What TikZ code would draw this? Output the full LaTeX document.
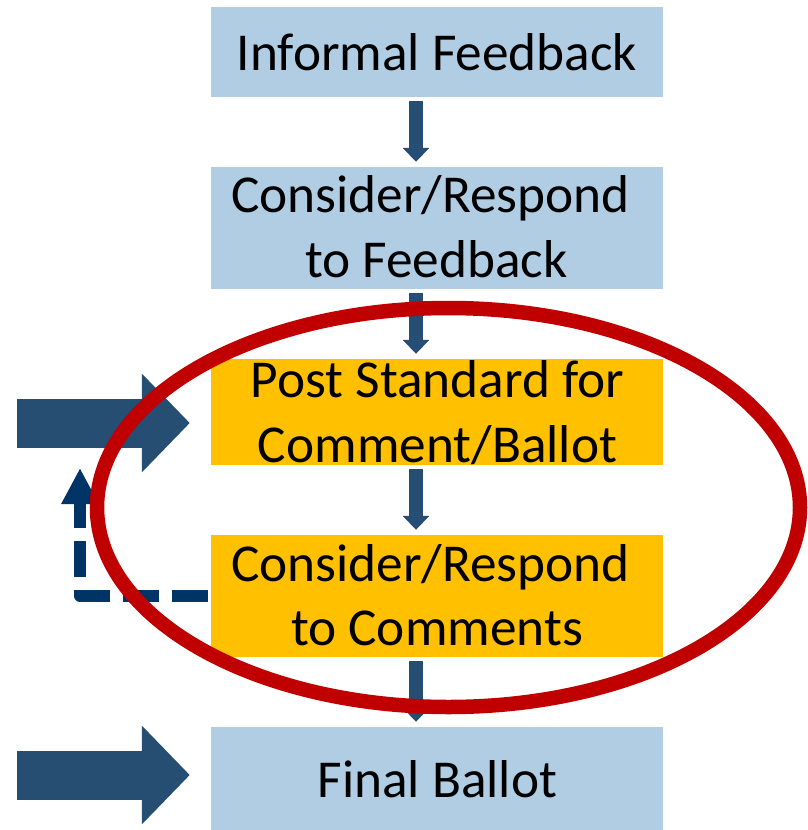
\documentclass[tikz,border=0pt]{standalone}
\usepackage{fontspec}
\setmainfont{Carlito}
\usetikzlibrary{arrows.meta}

\definecolor{boxblue}{HTML}{B0CDE3}
\definecolor{keyorange}{HTML}{FFC000}
\definecolor{flowblue}{HTML}{264E73}
\definecolor{loopnavy}{HTML}{003366}
\definecolor{focusred}{HTML}{C00000}

\tikzset{
  stage/.style={rectangle, inner sep=0pt, minimum width=452pt, draw=none},
  lightstage/.style={stage, fill=boxblue},
  keystage/.style={stage, fill=keyorange},
  stagetext/.style={anchor=base, inner sep=0pt, font=\fontsize{53.3}{65}\selectfont},
  flow/.style={draw=flowblue, line width=14pt, -{Triangle[width=26pt,length=14pt]},
    shorten <=4pt, shorten >=5pt},
  bigflow/.style={draw=flowblue, line width=49pt, -{Triangle[width=96pt,length=48pt]},
    shorten >=21pt},
  loopback/.style={draw=loopnavy, line width=12pt, dash pattern=on 36pt off 13pt,
    line join=round, shorten <=3pt, -{Triangle[width=35pt,length=36pt]}},
  focus/.style={draw=focusred, line width=14.5pt}
}

\begin{document}
\begin{tikzpicture}[x=1pt, y=-1pt]
  \useasboundingbox (0,0) rectangle (808,830);

  % process stages
  \node[lightstage, minimum height=90pt]  (b1) at (437,52)  {};
  \node[lightstage, minimum height=122pt] (b2) at (437,228) {};
  \node[keystage,   minimum height=106pt] (b3) at (437,412) {};
  \node[keystage,   minimum height=122pt] (b4) at (437,596) {};
  \node[lightstage, minimum height=106pt] (b5) at (437,780) {};

  % stage captions
  \node[stagetext] (t1)  at (437,70)    {Informal Feedback};
  \node[stagetext] (t2a) at (430.5,212) {Consider/Respond};
  \node[stagetext] (t2b) at (436.5,277) {to Feedback};
  \node[stagetext] (t3a) at (437.5,397) {Post Standard for};
  \node[stagetext] (t3b) at (437.5,462) {Comment/Ballot};
  \node[stagetext] (t4a) at (430.5,581) {Consider/Respond};
  \node[stagetext] (t4b) at (437,645)   {to Comments};
  \node[stagetext] (t5)  at (437.5,797) {Final Ballot};

  % flow between stages
  \draw[flow] ([xshift=-21pt]b1.south) -- ([xshift=-21pt]b2.north);
  \draw[flow] ([xshift=-21pt]b2.south) -- ([xshift=-21pt]b3.north);
  \draw[flow] ([xshift=-21pt]b3.south) -- ([xshift=-21pt]b4.north);
  \draw[flow] ([xshift=-21pt]b4.south) -- ([xshift=-21pt]b5.north);

  % entry points from the left
  \coordinate (entryA) at (17,423);
  \coordinate (entryB) at (17,775);
  \draw[bigflow] (entryA) -- (entryA -| b3.west);
  \draw[bigflow] (entryB) -- (entryB -| b5.west);

  % loop back to posting
  \coordinate (reentry) at (80,468);
  \draw[loopback] (b4.west) -| (reentry);

  % highlight of the comment cycle
  \draw[focus] (448.5,507.5) ellipse [x radius=351.5, y radius=199.5];
\end{tikzpicture}
\end{document}
